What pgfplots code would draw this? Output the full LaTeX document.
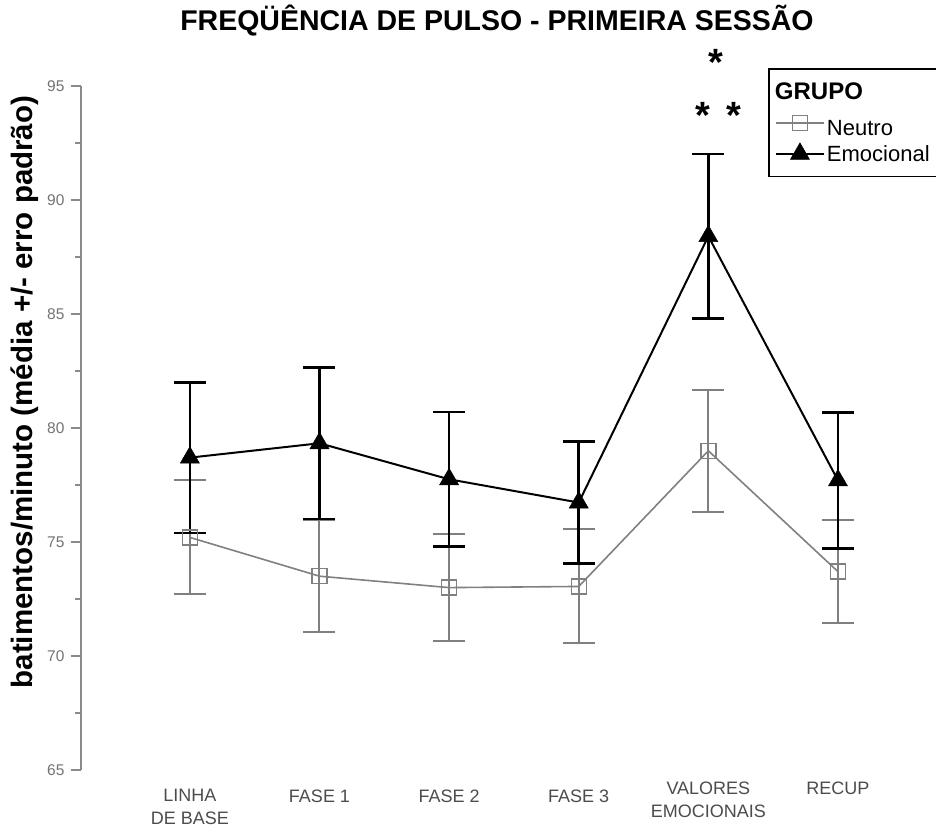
\documentclass[border=0pt]{standalone}
\usepackage{pgfplots}
\pgfplotsset{compat=1.18}
\usepackage{pgfplotstable}
\usepackage{fontspec}
\setmainfont{Liberation Sans}
\definecolor{neutro}{HTML}{808080}
\definecolor{axgray}{HTML}{8A8A8A}
\pgfplotstableread{
x y e
0 75.2 2.5
1 73.5 2.45
2 73.0 2.34
3 73.05 2.5
4 79.0 2.67
5 73.7 2.27
}\neutro
\pgfplotstableread{
x y e
0 78.7 3.3
1 79.33 3.33
2 77.75 2.95
3 76.73 2.67
4 88.41 3.61
5 77.7 2.98
}\emoc
\begin{document}
\begin{tikzpicture}[x=1pt,y=1pt]
\path[use as bounding box] (0,0) rectangle (936,829);
\begin{axis}[
  at={(81pt,59pt)}, anchor=south west,
  scale only axis, width=847.7pt, height=684pt,
  xmin=-0.84, xmax=5.7, ymin=65, ymax=95,
  clip=false,
  axis lines*=left,
  x axis line style={draw=none},
  y axis line style={draw=axgray, line width=1.6pt},
  xtick={0,1,2,3},
  xticklabels={{LINHA\\DE BASE},{FASE 1},{FASE 2},{FASE 3}},
  extra x ticks={4,5},
  extra x tick labels={{VALORES\\EMOCIONAIS},{RECUP}},
  extra x tick style={xticklabel style={yshift=8pt}},
  xticklabel style={anchor=north, align=center, yshift=-6pt, text=black!70, font=\fontsize{18}{23}\selectfont},
  x tick style={draw=none},
  ytick={65,70,75,80,85,90,95},
  minor y tick num=1,
  tick align=outside,
  major tick length=10pt,
  minor tick length=6pt,
  y tick style={draw=axgray, line width=1.6pt},
  /pgf/number format/assume math mode=true,
  yticklabel style={text=black!55, font=\fontsize{15.5}{17}\selectfont, xshift=-3pt},
  title={FREQÜÊNCIA DE PULSO - PRIMEIRA SESSÃO},
  title style={at={(axis description cs:0.4907,1.0863)}, anchor=center, font=\fontsize{28.5}{30}\selectfont\bfseries},
  ylabel={batimentos/minuto (média +/- erro padrão)},
  ylabel style={at={(axis description cs:-0.066,0.5526)}, anchor=center, font=\fontsize{29.5}{32}\selectfont\bfseries},
  legend style={at={(axis description cs:0.8105,1.026)}, anchor=north west, draw=black, line width=1.8pt,
    font=\fontsize{22}{24}\selectfont, inner xsep=6pt, inner ysep=12pt, row sep=4pt},
  legend cell align=left,
  legend image code/.code={\draw[mark repeat=2,mark phase=2,#1] plot coordinates {(0pt,0pt) (24pt,0pt) (48pt,0pt)};},
]
\addlegendimage{empty legend}
\addlegendentry{\hspace{-52pt}\fontsize{24}{26}\selectfont\bfseries GRUPO}
\addplot[color=neutro, line width=1.6pt, mark=square, mark size=7.5pt,
  mark options={line width=1.3pt, fill=none},
  error bars/.cd, y dir=both, y explicit,
  error bar style={line width=2pt, color=neutro},
  error mark options={rotate=90, mark size=16pt, line width=2pt, color=neutro}]
  table[x=x, y=y, y error=e] {\neutro};
\addlegendentry{\rule{0pt}{26pt}Neutro}
\addplot[color=black, line width=2pt, mark=triangle*, mark size=11pt,
  mark options={line width=0.5pt, fill=black},
  error bars/.cd, y dir=both, y explicit,
  error bar style={line width=2.6pt, color=black},
  error mark options={rotate=90, mark size=16pt, line width=2.6pt, color=black}]
  table[x=x, y=y, y error=e] {\emoc};
\addlegendentry{Emocional}
\node[font=\fontsize{38}{38}\selectfont\bfseries] at (axis cs:4.06,96.05) {*};
\node[font=\fontsize{38}{38}\selectfont\bfseries] at (axis cs:3.96,93.7) {*};
\node[font=\fontsize{38}{38}\selectfont\bfseries] at (axis cs:4.2,93.7) {*};
\end{axis}
\end{tikzpicture}
\end{document}
